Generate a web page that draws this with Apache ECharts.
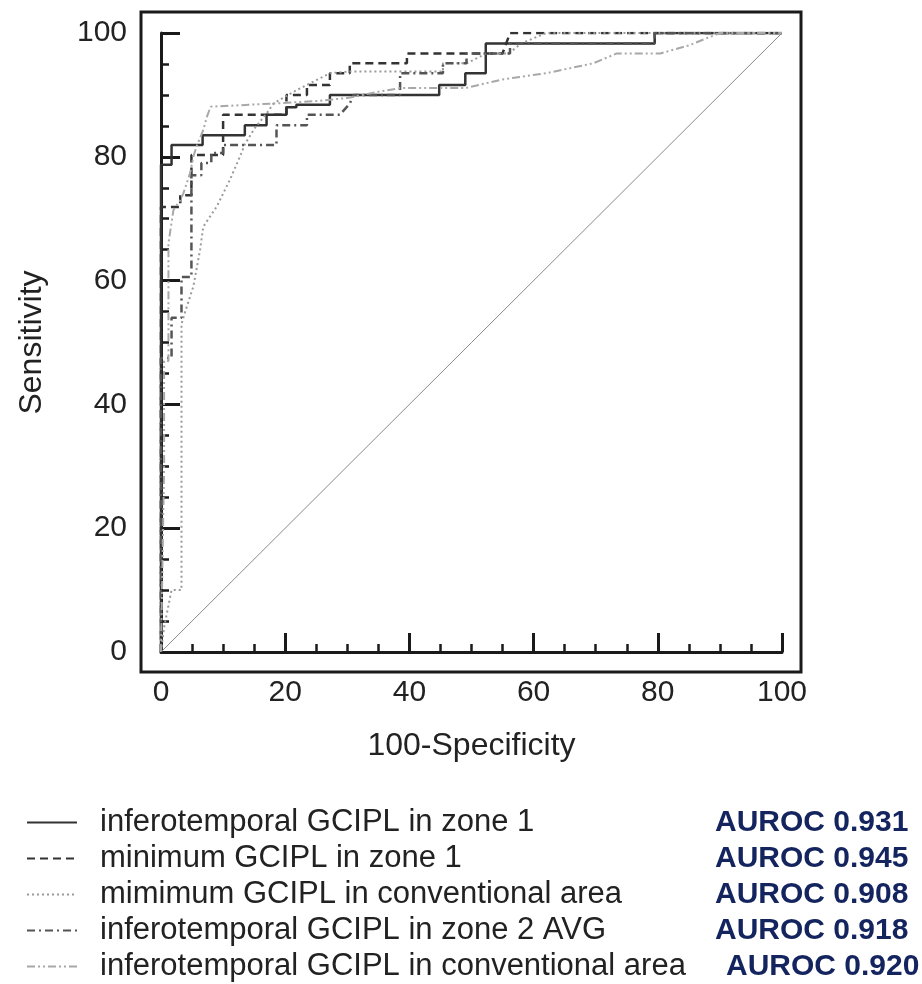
<!DOCTYPE html>
<html>
<head>
<meta charset="utf-8">
<title>ROC curves</title>
<script src="https://cdn.jsdelivr.net/npm/echarts@6/dist/echarts.min.js"></script>
<style>
  html, body { margin: 0; padding: 0; background: #fff; }
  #chart1 { width: 922px; height: 984px; }
</style>
</head>
<body>
<div id="chart1"></div>
<script>
var names = [
  'inferotemporal GCIPL in zone 1',
  'minimum GCIPL in zone 1',
  'mimimum GCIPL in conventional area',
  'inferotemporal GCIPL in zone 2 AVG',
  'inferotemporal GCIPL in conventional area'
];
var aurocs = ['0.931', '0.945', '0.908', '0.918', '0.920'];

// [100-specificity, sensitivity] points
var itZone1 = [[0,0],[0,78.7],[1.7,78.7],[1.7,81.9],[6.7,81.9],[6.7,83.5],[13.5,83.5],[13.5,85.1],
  [17,85.1],[17,86.8],[20.2,86.8],[20.2,88],[21.8,88],[21.8,88.4],[27.2,88.4],[27.2,90],[44.8,90],
  [44.8,91.6],[49,91.6],[49,93.5],[52.3,93.5],[52.3,98.3],[79.5,98.3],[79.5,100],[100,100]];
var minZone1 = [[0,0],[0,71.9],[3.1,71.9],[3.1,73.8],[4.9,73.8],[4.9,80.3],[10,80.3],[10,86.8],
  [20.2,86.8],[20.2,90],[23.5,90],[23.5,91.6],[27.2,91.6],[27.2,93.5],[30.4,93.5],[30.4,95.1],
  [39.6,95.1],[39.6,96.7],[55,96.7],[56.2,100],[100,100]];
var minConv = [[0,0],[0.5,4],[1.7,10],[3.3,10],[3.3,53],[3.9,55],[5.2,59],[6.3,65],[6.8,68.7],
  [9,72],[11.1,76.3],[12.7,80],[13.5,82],[15,84.5],[17,87],[18.1,88.6],[21.9,90.8],[27.2,93.5],
  [30.4,93.8],[45.4,93.8],[45.4,95.1],[49.2,95.1],[52.4,96.7],[56,96.7],[58,98.3],[62,100],[100,100]];
var itZone2 = [[0,0],[0,47.5],[1.7,47.5],[1.7,54],[3.3,54],[3.3,60.6],[4.9,60.6],[4.9,77],[6.5,77],
  [6.5,79],[8.1,79],[8.1,80.6],[10,80.6],[10,81.9],[18.6,81.9],[18.6,85.1],[23.5,85.1],[23.5,86.8],
  [28.8,86.8],[30.4,88.6],[31,90],[38.5,90],[38.5,93.5],[45.4,93.5],[45.4,95.1],[49.2,95.1],
  [49.2,96.7],[56.2,96.7],[56.2,98.3],[79.5,98.3],[79.5,100],[100,100]];
var itConv = [[0,0],[0.5,30],[0.5,47],[1.2,47],[1.2,66],[2,71.4],[3.1,73],[3.6,74.1],[4.7,77.4],
  [5.2,80],[5.7,81.6],[6.8,84.3],[7.4,86.5],[8,88.1],[18,88.6],[25,89],[30,89.5],[35,90.5],
  [38.5,91.1],[49,91.1],[55,92.5],[62,93.5],[69.6,95.1],[73.4,96.7],[80.4,96.7],[85,98],[90,100],[100,100]];
var diagonal = [[0,0],[100,100]];

var xTicks = [0, 20, 40, 60, 80, 100];

var chartDom = document.getElementById('chart1');
var myChart = echarts.init(chartDom);
var option;

var axisFont = 'Liberation Sans, Arial, sans-serif';
var frameColor = '#1a1a1a';

function valueAxis(name) {
  return {
    type: 'value',
    min: xTicks[0],
    max: xTicks[xTicks.length - 1],
    interval: 20,
    offset: 20,
    name: name,
    nameLocation: 'middle',
    nameTextStyle: { fontFamily: axisFont, fontSize: 32, color: '#222' },
    axisLine: { show: true, lineStyle: { color: frameColor, width: 3 } },
    axisTick: { show: true, inside: true, length: 19, lineStyle: { color: frameColor, width: 3 } },
    minorTick: { show: true, splitNumber: 4, length: 8, lineStyle: { color: frameColor, width: 2.5 } },
    splitLine: { show: false },
    axisLabel: { fontFamily: axisFont, fontSize: 30, color: '#222' }
  };
}

var xAxis = valueAxis('100-Specificity');
xAxis.nameGap = 58;
xAxis.axisLabel.margin = 6;
var yAxis = valueAxis('Sensitivity');
yAxis.nameGap = 93;
yAxis.axisLabel.margin = 14;

function rocSeries(i, data, color, width, dash) {
  return {
    name: names[i],
    type: 'line',
    data: data,
    symbol: 'none',
    silent: true,
    itemStyle: { color: color },
    lineStyle: { color: color, width: width, type: dash }
  };
}

option = {
  animation: false,
  grid: { left: 161, right: 140, top: 33, bottom: 332 },
  xAxis: xAxis,
  yAxis: yAxis,
  graphic: [{
    type: 'rect',
    shape: { x: 141, y: 12, width: 660, height: 660 },
    style: { fill: null, stroke: frameColor, lineWidth: 3 },
    z: 10
  }],
  legend: {
    orient: 'vertical',
    left: 26,
    top: 807,
    padding: 0,
    itemWidth: 50,
    itemHeight: 14,
    itemGap: 5,
    itemStyle: { opacity: 0 },
    data: names,
    formatter: function (name) {
      var i = names.indexOf(name);
      return '{' + (i === 4 ? 'm' : 'n') + '|' + name + '}{a|AUROC ' + aurocs[i] + '}';
    },
    textStyle: {
      rich: {
        n: { fontFamily: axisFont, fontSize: 31, color: '#222', width: 615, lineHeight: 34, padding: [0, 0, 0, 18] },
        m: { fontFamily: axisFont, fontSize: 31, color: '#222', width: 626, lineHeight: 34, padding: [0, 0, 0, 18] },
        a: { fontFamily: axisFont, fontSize: 30, fontWeight: 'bold', color: '#14245e', lineHeight: 34 }
      }
    }
  },
  series: [
    rocSeries(0, itZone1, '#333333', 2.5, 'solid'),
    rocSeries(1, minZone1, '#333333', 2.5, [8, 5]),
    rocSeries(2, minConv, '#9a9a9a', 2, [2, 3]),
    rocSeries(3, itZone2, '#555555', 2.5, [8, 4, 2, 4]),
    rocSeries(4, itConv, '#a8a8a8', 2, [8, 3, 2, 3, 2, 3]),
    {
      type: 'line',
      data: diagonal,
      symbol: 'none',
      silent: true,
      lineStyle: { color: '#8a8a8a', width: 1 }
    }
  ]
};

option && myChart.setOption(option);
window.onresize = function() {
  myChart.resize();
};
</script>
</body>
</html>
